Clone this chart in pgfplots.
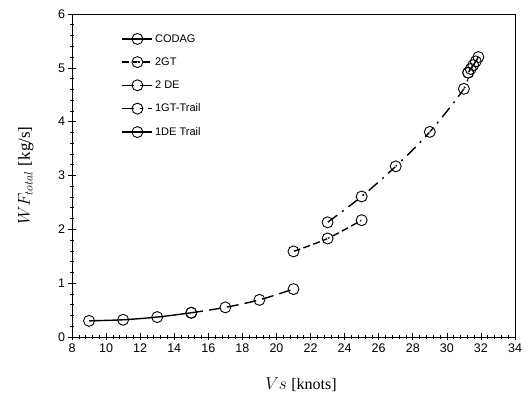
\documentclass[border=0pt]{standalone}
\usepackage{fontspec}
\setmainfont{Liberation Sans}
\newfontfamily\seriffont{Liberation Serif}
\usepackage{pgfplots}
\pgfplotsset{compat=1.18}
\usetikzlibrary{calc}
\pgfdeclareplotmark{odot}{%
  \pgfpathcircle{\pgfpointorigin}{\pgfplotmarksize}\pgfusepathqstroke
  \pgfpathcircle{\pgfpointorigin}{0.7pt}\pgfusepathqfill}
\begin{document}
\begin{tikzpicture}
\begin{axis}[
  name=ax,
  scale only axis, width=443pt, height=323pt,
  xmin=8, xmax=34, ymin=0, ymax=6,
  xtick={8,10,...,34}, ytick={0,1,...,6},
  minor x tick num=4, minor y tick num=4,
  tick align=center,
  xtick pos=bottom, ytick pos=left,
  major tick length=7pt, minor tick length=4pt,
  tick style={black, line width=0.6pt},
  axis line style={line width=0.8pt},
  /pgf/number format/assume math mode=true,
  ticklabel style={font=\fontsize{12.5}{14}\selectfont},
  xlabel={\fontsize{16}{18}\selectfont $Vs$ \seriffont[knots]},
  ylabel={\fontsize{17}{19}\selectfont $WF_{total}$ \seriffont[kg/s]},
  xlabel style={at={(axis description cs:0.517,-0.149)}, anchor=center},
  ylabel style={at={(axis description cs:-0.104,0.5)}, anchor=center},
  legend cell align=left,
  legend style={at={(0.105,0.95)}, anchor=north west, draw=none, fill=none,
    font=\fontsize{11}{13}\selectfont, row sep=10pt,
    /tikz/every even column/.append style={column sep=1pt}},
  legend image code/.code={\draw[mark repeat=2,mark phase=2,#1] plot coordinates {(0pt,0pt) (15pt,0pt) (30pt,0pt)};},
  every axis plot/.append style={black, line width=1.4pt, mark size=5.5pt,
    mark options={solid, line width=0.9pt, fill=white}},
]
% CODAG
\addplot[smooth, solid, mark=o] coordinates {
 (31.25,4.91) (31.4,4.98) (31.55,5.05) (31.7,5.12) (31.85,5.20)};
\addlegendentry{CODAG}
% 2GT
\addplot[smooth, dash pattern=on 7pt off 3.5pt, mark=odot] coordinates {
 (21,1.59) (23,1.83) (25,2.17)};
\addlegendentry{2GT}
% 2 DE
\addplot[smooth, dash pattern=on 12pt off 6pt, mark=o] coordinates {
 (15,0.45) (17,0.55) (19,0.69) (21,0.89)};
\addlegendentry{2 DE}
% 1GT-Trail
\addplot[smooth, dash pattern=on 12pt off 6pt on 2pt off 6pt, mark=odot] coordinates {
 (23,2.13) (25,2.61) (27,3.17) (29,3.81) (31,4.61) (31.25,4.91)};
\addlegendentry{1GT-Trail}
% 1DE Trail
\addplot[smooth, solid, mark=o] coordinates {
 (9,0.30) (11,0.32) (13,0.37) (15,0.45)};
\addlegendentry{1DE Trail}
\end{axis}
\pgfresetboundingbox
\path ($(ax.south west)+(-72pt,-71pt)$) rectangle ($(ax.north east)+(14pt,14pt)$);
\end{tikzpicture}
\end{document}
